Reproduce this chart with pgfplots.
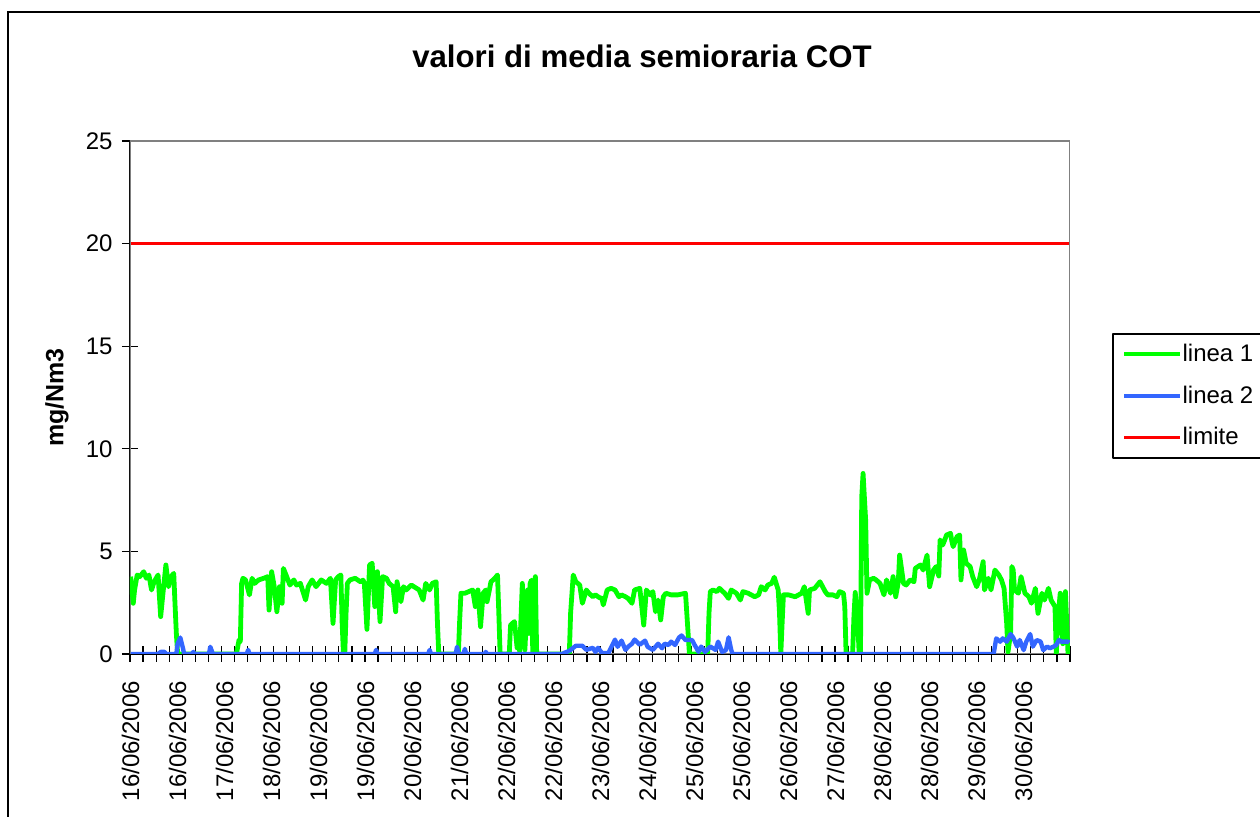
\documentclass[border=0pt]{standalone}
\usepackage{fontspec}
\setmainfont{Liberation Sans}
\usepackage{pgfplots}
\pgfplotsset{compat=1.18}
\definecolor{lgreen}{RGB}{0,255,0}
\definecolor{lblue}{RGB}{51,102,255}
\definecolor{lred}{RGB}{255,0,0}
\begin{document}
\begin{tikzpicture}[x=1pt,y=1pt]
\begin{axis}[
  at={(0,0)}, anchor=south west,
  scale only axis, width=470pt, height=256.5pt,
  xmin=-0.5, xmax=719.5, ymin=0, ymax=25,
  axis x line*=bottom, axis y line*=left,
  axis line style={black, line width=0.8pt, -},
  ytick={0,5,...,25},
  xtick={0,36,...,684},
  xticklabels={16/06/2006,16/06/2006,17/06/2006,18/06/2006,19/06/2006,19/06/2006,20/06/2006,21/06/2006,22/06/2006,22/06/2006,23/06/2006,24/06/2006,25/06/2006,25/06/2006,26/06/2006,27/06/2006,28/06/2006,28/06/2006,29/06/2006,30/06/2006},
  minor xtick={-0.5,9.5,...,719.5},
  tick align=center,
  major tick length=8pt, minor tick length=8pt,
  tick style={black, line width=0.6pt},
  major x tick style={draw=none},
  /pgf/number format/assume math mode=true,
  ticklabel style={font=\fontsize{12}{14}\selectfont},
  xticklabel style={rotate=90, anchor=east, inner sep=0pt},
  yticklabel style={anchor=east, inner sep=0pt},
  xticklabel shift=9.3pt,
  yticklabel shift=4.5pt,
  legend style={at={(rel axis cs:1.0447,0.6257)}, anchor=north west,
    draw=black, line width=0.8pt,
    font=\fontsize{12}{14}\selectfont,
    inner xsep=4.5pt, inner ysep=5pt, row sep=10.75pt,
    nodes={inner sep=0pt},
    /tikz/every even column/.append style={column sep=3pt}},
  legend cell align=left,
  legend image code/.code={\draw[#1] (0pt,0pt) -- (28pt,0pt);},
  line join=round,
]
\draw[gray, line width=0.8pt] (rel axis cs:0,0) rectangle (rel axis cs:1,1);
\coordinate (ll) at (rel axis cs:0,0);
\addplot[lgreen, line width=2.4pt] coordinates {
(0,3.77) (2,2.47) (3,3.12) (5,3.85) (7,3.77) (10,4.01) (12,3.69) (14,3.85) (16,3.12) (18,3.52) (21,3.85) (23,1.82) (25,3.12) (27,4.34) (29,3.28) (31,3.77) (33,3.93) (34,2.4) (35,1.0) (36,0) (81,0) (83,0.68) (84,0.6) (85,3.44) (86,3.69) (88,3.61) (91,2.88) (93,3.69) (95,3.44) (98,3.61) (102,3.69) (105,3.77) (106,2.14) (108,4.01) (110,3.28) (112,2.06) (114,3.28) (116,2.47) (117,4.17) (120,3.69) (122,3.36) (125,3.61) (127,3.36) (130,3.44) (134,2.63) (136,3.28) (139,3.61) (142,3.28) (146,3.61) (150,3.44) (153,3.69) (155,1.49) (157,3.61) (159,3.77) (161,3.85) (162,1.5) (163,0) (164,0) (165,2.0) (166,3.44) (168,3.61) (172,3.69) (176,3.52) (178,3.6) (179,3.44) (181,1.2) (183,4.34) (185,4.42) (187,2.31) (188,3.77) (189,4.01) (191,1.58) (193,3.77) (196,3.69) (198,3.44) (201,3.28) (203,2.06) (204,3.52) (207,2.55) (209,3.28) (211,3.12) (215,3.36) (219,3.20) (221,3.12) (224,2.63) (226,3.44) (229,3.12) (231,3.44) (234,3.52) (235,1.5) (236,0) (251,0) (252,1.6) (253,2.96) (256,2.96) (259,3.04) (262,3.12) (264,2.31) (266,3.12) (268,1.33) (270,2.96) (272,3.12) (273,2.55) (276,3.52) (279,3.69) (281,3.85) (282,2.0) (283,0) (290,0) (291,1.41) (294,1.58) (296,0.3) (297,1.0) (298,0.1) (300,3.44) (302,0.2) (304,3.12) (305,1.0) (306,3.44) (307,3.6) (308,0.1) (309,3.0) (310,3.77) (311,0) (336,0) (337,2.0) (339,3.85) (341,3.52) (344,3.36) (346,2.47) (349,3.12) (351,2.96) (354,2.79) (356,2.88) (359,2.75) (361,2.71) (362,2.39) (365,3.12) (368,3.20) (371,3.12) (374,2.79) (376,2.88) (379,2.79) (381,2.71) (384,2.47) (386,3.12) (390,3.20) (393,1.41) (395,3.12) (398,2.88) (400,3.04) (402,2.06) (404,2.63) (406,1.66) (408,2.79) (410,2.96) (414,2.88) (419,2.88) (425,2.96) (427,1.0) (428,0) (442,0) (443,2.0) (444,3.04) (446,3.12) (449,3.04) (451,3.20) (455,2.96) (458,2.71) (460,3.12) (464,2.96) (467,2.63) (469,3.04) (473,2.96) (478,2.79) (481,2.88) (483,3.28) (486,3.12) (488,3.36) (491,3.44) (493,3.74) (496,3.12) (497,2.0) (498,0) (499,1.5) (500,2.88) (504,2.88) (509,2.79) (514,2.96) (516,3.28) (519,1.98) (520,3.12) (524,3.20) (528,3.52) (532,3.04) (534,2.88) (536,2.88) (538,2.88) (541,2.79) (543,3.04) (546,2.96) (547,2.31) (548,0) (553,0) (554,1.82) (555,3.0) (557,1.5) (558,0) (559,0) (560,7.67) (561,8.80) (563,6.5) (564,2.96) (565,3.28) (566,3.61) (569,3.69) (571,3.61) (574,3.44) (577,2.88) (579,3.61) (582,2.96) (584,3.77) (586,2.79) (588,3.52) (589,4.82) (592,3.44) (594,3.36) (597,3.61) (600,3.52) (601,4.17) (605,4.34) (607,4.09) (610,4.82) (612,3.28) (615,4.09) (617,4.26) (619,3.8) (620,5.56) (622,5.31) (625,5.80) (628,5.88) (629,5.5) (630,5.23) (633,5.72) (635,5.80) (636,3.61) (638,5.07) (640,4.42) (643,4.26) (645,3.77) (648,3.28) (650,3.61) (653,4.50) (654,3.12) (657,3.69) (659,3.12) (662,4.09) (665,3.85) (667,3.61) (669,3.2) (671,1.5) (672,0.1) (674,1.0) (675,4.26) (676,4.09) (677,3.12) (680,2.96) (682,3.77) (685,2.96) (688,2.79) (690,2.47) (693,3.20) (695,1.98) (698,2.96) (700,2.63) (703,3.20) (705,2.63) (708,2.31) (709,0) (710,1.5) (712,2.96) (714,0.5) (716,3.04) (717,1.5) (718,0)
};
\addlegendentry{linea 1}
\addplot[lblue, line width=2.2pt] coordinates {
(0,0) (21,0) (23,0.1) (26,0.1) (27,0) (35,0) (36,0.5) (38,0.8) (40,0.3) (41,0) (47,0) (48,0.1) (49,0) (60,0) (61,0.35) (63,0) (89,0) (90,0.2) (91,0) (187,0) (188,0.2) (189,0) (228,0) (229,0.2) (230,0) (249,0) (250,0.35) (251,0) (255,0) (256,0.25) (257,0) (271,0) (272,0.1) (273,0) (331,0) (332,0.05) (336,0.15) (341,0.4) (346,0.4) (349,0.2) (354,0.3) (356,0.1) (358,0.3) (361,0.05) (366,0.05) (371,0.7) (373,0.35) (376,0.65) (379,0.2) (381,0.35) (384,0.5) (386,0.7) (390,0.45) (394,0.65) (396,0.35) (400,0.2) (404,0.5) (407,0.28) (409,0.5) (412,0.44) (414,0.6) (417,0.44) (420,0.8) (422,0.9) (425,0.68) (427,0.68) (430,0.68) (432,0.44) (435,0.1) (437,0.36) (440,0.1) (444,0.36) (448,0.2) (450,0.6) (453,0.1) (456,0.19) (458,0.81) (460,0.2) (461,0) (661,0) (663,0.76) (666,0.6) (668,0.76) (671,0.6) (674,0.97) (676,0.8) (679,0.36) (681,0.68) (684,0.19) (686,0.6) (689,0.97) (691,0.36) (694,0.68) (697,0.6) (699,0.19) (702,0.36) (704,0.28) (707,0.36) (709,0.44) (711,0.68) (713,0.6) (716,0.6) (718,0.6) (719,0.55)
};
\addlegendentry{linea 2}
\addplot[lred, line width=1.7pt] coordinates {(0,20) (719,20)};
\addlegendentry{limite}
\end{axis}
\path (ll) ++(-65,-81.5) coordinate (O);
\begin{scope}[shift={(O)}]
\draw[line width=0.8pt] (4,-20) rectangle (660,402.5);
\node[anchor=base, font=\bfseries\fontsize{15.6}{18}\selectfont] at (321,374.5) {valori di media semioraria COT};
\node[rotate=90, font=\bfseries\fontsize{12.5}{15}\selectfont] at (28.5,209.75) {mg/Nm3};
\coordinate (BL) at (0,0);
\coordinate (TR) at (630,408.5);
\end{scope}
\pgfresetboundingbox
\path[use as bounding box] (BL) rectangle (TR);
\end{tikzpicture}
\end{document}
